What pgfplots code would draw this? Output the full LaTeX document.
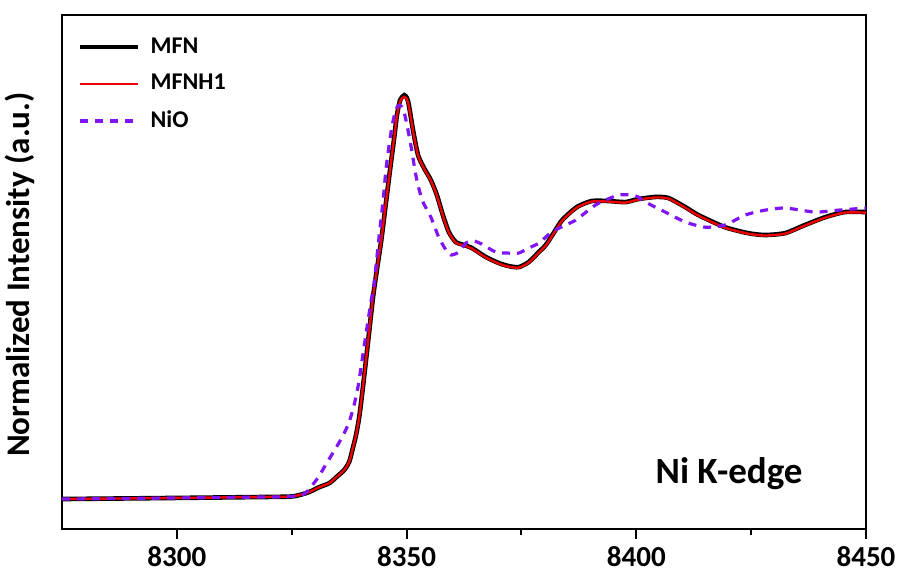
\documentclass[border=0pt]{standalone}
\usepackage{fontspec}
\setmainfont{Carlito}
\usepackage{pgfplots}
\pgfplotsset{compat=1.18}
\definecolor{nioviolet}{RGB}{127,20,245}
\definecolor{mfnred}{RGB}{240,0,0}
\begin{document}
\begin{tikzpicture}
\begin{axis}[
  scale only axis,
  width=402pt, height=257pt,
  xmin=8275, xmax=8450,
  ymin=-0.111, ymax=1.793,
  xtick={8300,8350,8400,8450},
  minor xtick={8325,8375,8425},
  ytick=\empty,
  xtick pos=bottom,
  tick align=outside,
  major tick length=5pt,
  minor tick length=3pt,
  axis line style={line width=1pt},
  every tick/.style={line width=1pt, black},
  /pgf/number format/assume math mode=true,
  /pgf/number format/1000 sep={},
  ticklabel style={font=\bfseries\fontsize{14.5}{16}\selectfont},
  xticklabel style={yshift=-2.5pt, inner sep=1pt},
  ylabel={Normalized Intensity (a.u.)},
  ylabel style={font=\bfseries\fontsize{16.5}{18}\selectfont, at={(axis description cs:-0.052,0.495)}, anchor=center},
  legend style={at={(axis description cs:0.012,0.968)}, anchor=north west, draw=none, fill=none,
    font=\bfseries\fontsize{12}{14}\selectfont, row sep=7pt, column sep=4pt, nodes={inner sep=1pt}},
  legend cell align=left,
  legend image code/.code={\draw[#1] (0pt,0pt) -- (29pt,0pt);},
]
\addplot[black, line width=2.3pt, smooth, tension=0.4] coordinates {
(8275.0,0.000) (8299.5,0.004) (8315.8,0.007) (8324.5,0.009) (8326.7,0.015) (8328.8,0.026)
(8331.0,0.044) (8333.2,0.059) (8334.7,0.081) (8336.4,0.107) (8337.5,0.137) (8338.2,0.181)
(8339.0,0.237) (8339.7,0.304) (8340.3,0.385) (8341.0,0.489) (8341.9,0.626) (8342.7,0.748)
(8343.6,0.856) (8344.5,0.959) (8345.5,1.096) (8346.4,1.219) (8347.3,1.337) (8347.9,1.422)
(8348.6,1.478) (8349.5,1.496) (8350.1,1.485) (8350.5,1.459) (8351.4,1.367) (8352.5,1.274)
(8353.8,1.226) (8355.3,1.181) (8356.6,1.126) (8357.9,1.052) (8359.2,0.989) (8360.7,0.952)
(8362.5,0.941) (8364.2,0.930) (8367.3,0.896) (8370.1,0.874) (8372.2,0.863) (8374.4,0.859)
(8376.6,0.878) (8378.8,0.915) (8380.3,0.941) (8382.0,0.985) (8383.7,1.030) (8385.7,1.063)
(8387.4,1.085) (8390.3,1.104) (8393.9,1.104) (8397.6,1.100) (8400.4,1.111) (8404.2,1.119)
(8407.0,1.115) (8410.7,1.081) (8413.5,1.052) (8419.3,1.007) (8424.3,0.985) (8428.0,0.978)
(8432.4,0.985) (8436.7,1.015) (8441.1,1.044) (8445.4,1.063) (8450.0,1.063)
};
\addlegendentry{MFN}
\addplot[mfnred, line width=1.2pt, smooth, tension=0.4] coordinates {
(8275.0,0.000) (8299.5,0.004) (8315.8,0.007) (8324.5,0.009) (8326.7,0.015) (8328.8,0.026)
(8331.0,0.044) (8333.2,0.059) (8334.7,0.081) (8336.4,0.107) (8337.5,0.137) (8338.2,0.181)
(8339.0,0.237) (8339.7,0.304) (8340.3,0.385) (8341.0,0.489) (8341.9,0.626) (8342.7,0.748)
(8343.6,0.856) (8344.5,0.959) (8345.5,1.096) (8346.4,1.219) (8347.3,1.337) (8347.9,1.420)
(8348.6,1.474) (8349.5,1.490) (8350.1,1.480) (8350.5,1.455) (8351.4,1.365) (8352.5,1.272)
(8353.8,1.224) (8355.3,1.179) (8356.6,1.124) (8357.9,1.050) (8359.2,0.987) (8360.7,0.950)
(8362.5,0.939) (8364.2,0.928) (8367.3,0.894) (8370.1,0.872) (8372.2,0.861) (8374.4,0.857)
(8376.6,0.876) (8378.8,0.913) (8380.3,0.939) (8382.0,0.983) (8383.7,1.028) (8385.7,1.061)
(8387.4,1.083) (8390.3,1.102) (8393.9,1.102) (8397.6,1.098) (8400.4,1.109) (8404.2,1.117)
(8407.0,1.113) (8410.7,1.079) (8413.5,1.050) (8419.3,1.005) (8424.3,0.983) (8428.0,0.976)
(8432.4,0.983) (8436.7,1.013) (8441.1,1.042) (8445.4,1.061) (8450.0,1.061)
};
\addlegendentry{MFNH1}
\addplot[nioviolet, line width=1.6pt, dash pattern=on 4pt off 3.5pt, smooth, tension=0.4] coordinates {
(8275.0,0.000) (8299.5,0.004) (8315.8,0.007) (8324.5,0.009) (8327.7,0.019) (8329.0,0.041)
(8330.8,0.081) (8332.5,0.130) (8334.3,0.180) (8335.5,0.215) (8336.6,0.250) (8337.6,0.290)
(8338.6,0.350) (8339.5,0.422) (8340.1,0.489) (8341.2,0.615) (8342.3,0.737) (8342.9,0.793)
(8344.0,0.970) (8344.9,1.107) (8345.5,1.219) (8346.2,1.311) (8346.8,1.378) (8347.5,1.433)
(8348.1,1.456) (8348.8,1.456) (8349.5,1.430) (8350.1,1.385) (8351.0,1.304) (8352.1,1.193)
(8353.4,1.107) (8355.3,1.044) (8357.0,0.970) (8358.6,0.922) (8359.7,0.904) (8361.4,0.915)
(8362.9,0.948) (8364.6,0.956) (8366.4,0.944) (8369.4,0.915) (8372.2,0.911) (8374.4,0.911)
(8376.6,0.930) (8378.8,0.948) (8381.6,0.989) (8384.6,1.015) (8386.8,1.033) (8389.6,1.070)
(8391.8,1.096) (8396.1,1.126) (8398.9,1.126) (8400.4,1.119) (8402.0,1.100) (8406.3,1.063)
(8410.7,1.026) (8415.0,1.007) (8419.3,1.015) (8423.7,1.052) (8428.0,1.070) (8432.4,1.078)
(8438.9,1.063) (8443.9,1.070) (8450.0,1.078)
};
\addlegendentry{NiO}
\node[anchor=base, font=\bfseries\fontsize{18.5}{22}\selectfont] at (axis cs:8420.2,0.059) {Ni K-edge};
\end{axis}
\pgfresetboundingbox
\path[use as bounding box] ([xshift=-31pt,yshift=-22.5pt]current axis.south west) rectangle ([xshift=17pt,yshift=7.5pt]current axis.north east);
\end{tikzpicture}
\end{document}
